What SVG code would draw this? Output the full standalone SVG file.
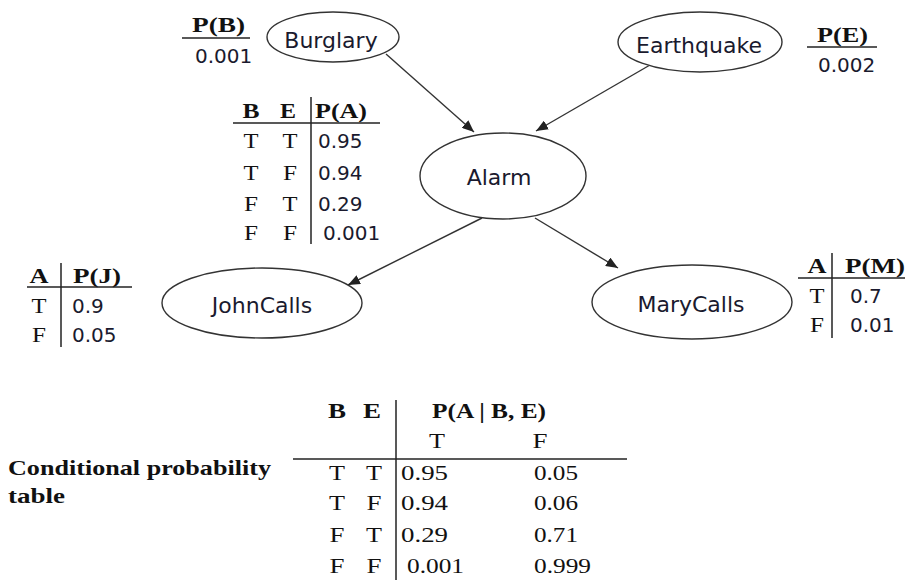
<svg xmlns="http://www.w3.org/2000/svg" width="914" height="582" viewBox="0 0 914 582">
<defs>
<marker id="arr" markerUnits="userSpaceOnUse" markerWidth="14" markerHeight="10" refX="12" refY="5" orient="auto">
<path d="M0,0 L12,5 L0,10 Z" fill="#222"/>
</marker>
<style>
.node{fill:#fff;stroke:#333;stroke-width:1.4}
.lbl{font-family:"DejaVu Sans",sans-serif;font-size:22px;fill:#1a1a2e;text-anchor:middle}
.edge{stroke:#333;stroke-width:1.4;fill:none;marker-end:url(#arr)}
.s{font-family:"Liberation Serif","Times New Roman",serif;font-size:21.5px;fill:#111}
.b{font-weight:bold}
.c{text-anchor:middle}
.n{font-family:"DejaVu Sans",sans-serif;font-size:20px;fill:#1a1a2e}
.rule{stroke:#222;stroke-width:1.5}
</style>
</defs>
<rect width="914" height="582" fill="#fff"/>

<g id="connectors">
<line class="edge" x1="386" y1="54" x2="474" y2="132"/>
<line class="edge" x1="650" y1="65" x2="536" y2="131"/>
<line class="edge" x1="482" y1="218" x2="348" y2="285"/>
<line class="edge" x1="535" y1="218" x2="618" y2="268"/>
</g>

<g id="burglary">
<ellipse class="node" cx="333" cy="37" rx="66" ry="25"/>
<text class="lbl" x="331" y="48">Burglary</text>
</g>
<g id="earthquake">
<ellipse class="node" cx="700" cy="42" rx="82" ry="30"/>
<text class="lbl" x="699" y="53">Earthquake</text>
</g>
<g id="alarm">
<ellipse class="node" cx="503" cy="176" rx="83" ry="43"/>
<text class="lbl" x="499" y="185">Alarm</text>
</g>
<g id="johncalls">
<ellipse class="node" cx="262" cy="303" rx="100" ry="35"/>
<text class="lbl" x="262" y="313">JohnCalls</text>
</g>
<g id="marycalls">
<ellipse class="node" cx="692" cy="302" rx="100" ry="37"/>
<text class="lbl" x="691" y="312">MaryCalls</text>
</g>

<g id="table-pb">
<text class="s b" x="192" y="32" textLength="53" lengthAdjust="spacingAndGlyphs">P(B)</text>
<line class="rule" x1="182" y1="38" x2="250" y2="38"/>
<text class="n" x="195" y="63">0.001</text>
</g>

<g id="table-pe">
<text class="s b" x="817" y="42" textLength="51" lengthAdjust="spacingAndGlyphs">P(E)</text>
<line class="rule" x1="807" y1="47" x2="877" y2="47"/>
<text class="n" x="818" y="72">0.002</text>
</g>

<g id="table-pa">
<text class="s b c" x="251" y="118" textLength="17" lengthAdjust="spacingAndGlyphs">B</text>
<text class="s b c" x="288" y="118" textLength="16" lengthAdjust="spacingAndGlyphs">E</text>
<text class="s b" x="315" y="118" textLength="52" lengthAdjust="spacingAndGlyphs">P(A)</text>
<line class="rule" x1="233" y1="123" x2="380" y2="123"/>
<line class="rule" x1="311" y1="97" x2="311" y2="244"/>
<text class="s c" x="251" y="148" textLength="15" lengthAdjust="spacingAndGlyphs">T</text><text class="s c" x="290" y="148" textLength="15" lengthAdjust="spacingAndGlyphs">T</text><text class="n" x="318" y="148">0.95</text>
<text class="s c" x="251" y="180" textLength="15" lengthAdjust="spacingAndGlyphs">T</text><text class="s c" x="290" y="180" textLength="14" lengthAdjust="spacingAndGlyphs">F</text><text class="n" x="318" y="180">0.94</text>
<text class="s c" x="251" y="211" textLength="14" lengthAdjust="spacingAndGlyphs">F</text><text class="s c" x="290" y="211" textLength="15" lengthAdjust="spacingAndGlyphs">T</text><text class="n" x="318" y="211">0.29</text>
<text class="s c" x="251" y="240" textLength="14" lengthAdjust="spacingAndGlyphs">F</text><text class="s c" x="290" y="240" textLength="14" lengthAdjust="spacingAndGlyphs">F</text><text class="n" x="323" y="240">0.001</text>
</g>

<g id="table-pj">
<text class="s b c" x="39" y="283" textLength="19" lengthAdjust="spacingAndGlyphs">A</text>
<text class="s b" x="73" y="283" textLength="48" lengthAdjust="spacingAndGlyphs">P(J)</text>
<line class="rule" x1="27" y1="287" x2="132" y2="287"/>
<line class="rule" x1="61" y1="263" x2="61" y2="347"/>
<text class="s c" x="39" y="313" textLength="15" lengthAdjust="spacingAndGlyphs">T</text><text class="n" x="72" y="313">0.9</text>
<text class="s c" x="39" y="342" textLength="14" lengthAdjust="spacingAndGlyphs">F</text><text class="n" x="72" y="342">0.05</text>
</g>

<g id="table-pm">
<text class="s b c" x="817" y="273" textLength="19" lengthAdjust="spacingAndGlyphs">A</text>
<text class="s b" x="845" y="273" textLength="60" lengthAdjust="spacingAndGlyphs">P(M)</text>
<line class="rule" x1="798" y1="278" x2="905" y2="278"/>
<line class="rule" x1="832" y1="253" x2="832" y2="338"/>
<text class="s c" x="817" y="303" textLength="15" lengthAdjust="spacingAndGlyphs">T</text><text class="n" x="850" y="303">0.7</text>
<text class="s c" x="817" y="332" textLength="14" lengthAdjust="spacingAndGlyphs">F</text><text class="n" x="850" y="332">0.01</text>
</g>

<g id="cpt">
<text class="s b" x="8" y="475" textLength="263" lengthAdjust="spacingAndGlyphs">Conditional probability</text>
<text class="s b" x="8" y="503" textLength="57" lengthAdjust="spacingAndGlyphs">table</text>
<text class="s b c" x="337" y="418" textLength="18" lengthAdjust="spacingAndGlyphs">B</text>
<text class="s b c" x="372" y="418" textLength="18" lengthAdjust="spacingAndGlyphs">E</text>
<text class="s b" x="432" y="418" textLength="114" lengthAdjust="spacingAndGlyphs">P(A | B, E)</text>
<text class="s c" x="437" y="448" textLength="16" lengthAdjust="spacingAndGlyphs">T</text>
<text class="s c" x="540" y="448" textLength="15" lengthAdjust="spacingAndGlyphs">F</text>
<line class="rule" x1="293" y1="459" x2="627" y2="459"/>
<line class="rule" x1="396" y1="400" x2="396" y2="580"/>
<text class="s c" x="337" y="480" textLength="16" lengthAdjust="spacingAndGlyphs">T</text><text class="s c" x="374" y="480" textLength="16" lengthAdjust="spacingAndGlyphs">T</text>
<text class="s" x="401" y="480" textLength="47" lengthAdjust="spacingAndGlyphs">0.95</text>
<text class="s" x="534" y="480" textLength="44" lengthAdjust="spacingAndGlyphs">0.05</text>
<text class="s c" x="337" y="510" textLength="16" lengthAdjust="spacingAndGlyphs">T</text><text class="s c" x="374" y="510" textLength="15" lengthAdjust="spacingAndGlyphs">F</text>
<text class="s" x="401" y="510" textLength="47" lengthAdjust="spacingAndGlyphs">0.94</text>
<text class="s" x="534" y="510" textLength="44" lengthAdjust="spacingAndGlyphs">0.06</text>
<text class="s c" x="337" y="542" textLength="15" lengthAdjust="spacingAndGlyphs">F</text><text class="s c" x="374" y="542" textLength="16" lengthAdjust="spacingAndGlyphs">T</text>
<text class="s" x="401" y="542" textLength="47" lengthAdjust="spacingAndGlyphs">0.29</text>
<text class="s" x="534" y="542" textLength="44" lengthAdjust="spacingAndGlyphs">0.71</text>
<text class="s c" x="337" y="573" textLength="15" lengthAdjust="spacingAndGlyphs">F</text><text class="s c" x="374" y="573" textLength="15" lengthAdjust="spacingAndGlyphs">F</text>
<text class="s" x="407" y="573" textLength="57" lengthAdjust="spacingAndGlyphs">0.001</text>
<text class="s" x="534" y="573" textLength="57" lengthAdjust="spacingAndGlyphs">0.999</text>
</g>
</svg>
